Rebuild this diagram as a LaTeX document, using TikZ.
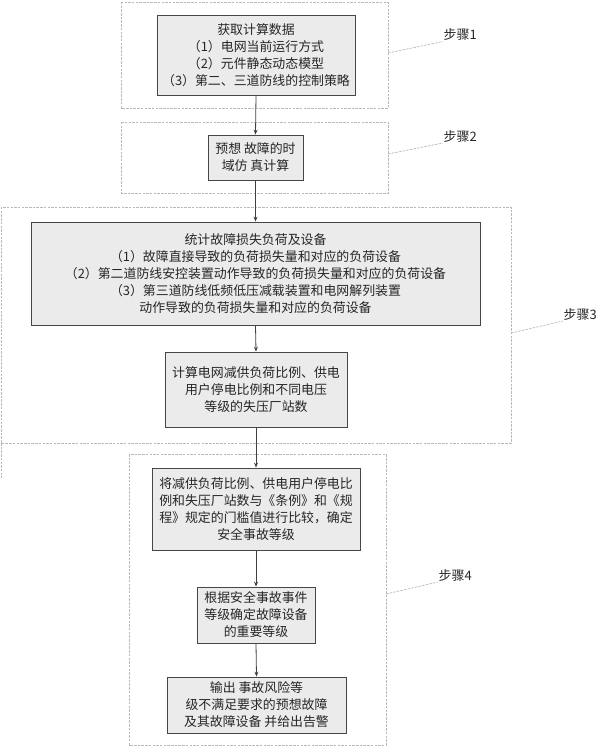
\documentclass[tikz,border=0pt]{standalone}
\usepackage{fontspec}
\newfontfamily\cjk{Noto Sans CJK SC}
\usetikzlibrary{shadows,arrows.meta}
\begin{document}
\begin{tikzpicture}[x=1pt,y=-1pt,
  stepbox/.style={draw=gray!55!black, line width=0.8pt, fill=gray!16, align=center,
    font=\cjk\fontsize{12.9}{17}\selectfont, text=black!85, inner sep=0pt,
    drop shadow={shadow xshift=1.3pt, shadow yshift=-1.3pt, fill=gray!75, opacity=1}},
  groupbox/.style={draw=gray!55, line width=0.7pt, dash pattern=on 2.5pt off 1.2pt},
  leader/.style={draw=gray!55, line width=0.7pt, dash pattern=on 2.5pt off 1.2pt},
  steplabel/.style={font=\cjk\fontsize{13}{14}\selectfont, text=black!85, inner sep=0.5pt},
  arr/.style={draw=gray!50!black, line width=0.8pt, -{Stealth[length=5pt,width=4pt]}}
]
\useasboundingbox (0,0) rectangle (601,751);

% group (dashed) frames
\draw[groupbox] (121,2) rectangle (388,108);
\draw[groupbox] (121,122) rectangle (388,193);
\draw[groupbox] (1,207) rectangle (511,443);
\draw[groupbox] (1,443) -- (1,478);
\draw[groupbox] (129,454) rectangle (386,745);

% step boxes
\node[stepbox, minimum width=198pt, minimum height=80pt] (b1) at (256,55)
  {获取计算数据\\（1）电网当前运行方式\\（2）元件静态动态模型\\（3）第二、三道防线的控制策略};
\node[stepbox, minimum width=95pt, minimum height=45pt] (b2) at (255.5,157.5)
  {预想 故障的时\\域仿 真计算};
\node[stepbox, minimum width=449pt, minimum height=103pt] (b3a) at (255.5,273.5)
  {统计故障损失负荷及设备\\（1）故障直接导致的负荷损失量和对应的负荷设备\\（2）第二道防线安控装置动作导致的负荷损失量和对应的负荷设备\\（3）第三道防线低频低压减载装置和电网解列装置\\动作导致的负荷损失量和对应的负荷设备};
\node[stepbox, minimum width=182pt, minimum height=75pt] (b3b) at (256,389.5)
  {计算电网减供负荷比例、供电\\用户停电比例和不同电压\\等级的失压厂站数};
\node[stepbox, minimum width=208pt, minimum height=82pt] (b4a) at (256,509)
  {将减供负荷比例、供电用户停电比\\例和失压厂站数与《条例》和《规\\程》规定的门槛值进行比较，确定\\安全事故等级};
\node[stepbox, minimum width=118pt, minimum height=56pt] (b4b) at (256,615)
  {根据安全事故事件\\等级确定故障设备\\的重要等级};
\node[stepbox, minimum width=179pt, minimum height=56pt] (b4c) at (256.5,705)
  {输出 事故风险等\\级不满足要求的预想故障\\及其故障设备 并给出告警};

% connectors
\draw[arr] (b1.south) -- (b2.north);
\draw[arr] (b2.south) -- (b3a.north);
\draw[arr] (b3a.south) -- (b3b.north);
\draw[arr] (b3b.south) -- (b4a.north);
\draw[arr] (b4a.south) -- (b4b.north);
\draw[arr] (b4b.south) -- (b4c.north);

% step labels
\node[steplabel, anchor=south west] (s1) at (443,41.5) {步骤1};
\node[steplabel, anchor=south west] (s2) at (443,143) {步骤2};
\node[steplabel, anchor=south west] (s3) at (563,321) {步骤3};
\node[steplabel, anchor=south west] (s4) at (438,582) {步骤4};

\coordinate (c1) at (388,53);
\coordinate (c2) at (388,154);
\coordinate (c3) at (511,333);
\coordinate (c4) at (386,594);
\draw[leader] (c1) -- (s1.south west);
\draw[leader] (c2) -- (s2.south west);
\draw[leader] (c3) -- (s3.south west);
\draw[leader] (c4) -- (s4.south west);
\end{tikzpicture}
\end{document}
